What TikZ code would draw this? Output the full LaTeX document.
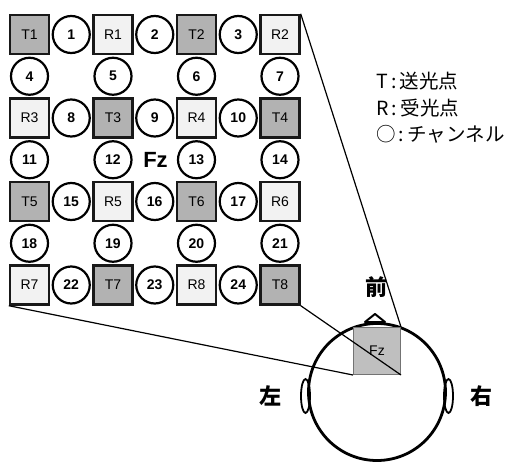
\documentclass[tikz,border=0pt]{standalone}
\usepackage{fontspec}
\setmainfont{Liberation Sans}
\newfontfamily\jp{Noto Sans CJK JP}
\begin{document}
\begin{tikzpicture}[x=1pt,y=-1pt,
  sqbox/.style={draw=black!90,line width=2.4pt,minimum size=39pt,inner sep=0pt,font=\fontsize{14}{14}\selectfont},
  tsq/.style={sqbox,fill=black!30},
  rsq/.style={sqbox,fill=black!5},
  chan/.style={circle,draw=black,line width=2.2pt,minimum size=37pt,inner sep=0pt,fill=white,font=\bfseries\fontsize{14}{14}\selectfont},
  dirlab/.style={font=\jp\bfseries\fontsize{22}{22}\selectfont,inner sep=0pt},
  legend/.style={anchor=west,font=\jp\fontsize{19.5}{19.5}\selectfont,inner sep=0pt},
  zoomline/.style={line width=1.2pt,black}]
\useasboundingbox (0,0) rectangle (509,466);
% squares
\node[tsq] (T1) at (29.5,34.5) {T1};
\node[rsq] (R1) at (113,34.5) {R1};
\node[tsq] (T2) at (196.5,34.5) {T2};
\node[rsq] (R2) at (280,34.5) {R2};
\node[rsq] (R3) at (29.5,118) {R3};
\node[tsq] (T3) at (113,118) {T3};
\node[rsq] (R4) at (196.5,118) {R4};
\node[tsq] (T4) at (280,118) {T4};
\node[tsq] (T5) at (29.5,201.5) {T5};
\node[rsq] (R5) at (113,201.5) {R5};
\node[tsq] (T6) at (196.5,201.5) {T6};
\node[rsq] (R6) at (280,201.5) {R6};
\node[rsq] (R7) at (29.5,285) {R7};
\node[tsq] (T7) at (113,285) {T7};
\node[rsq] (R8) at (196.5,285) {R8};
\node[tsq] (T8) at (280,285) {T8};
% channels
\node[chan] (c1) at (71.25,34.5) {1};
\node[chan] (c2) at (154.75,34.5) {2};
\node[chan] (c3) at (238.25,34.5) {3};
\node[chan] (c4) at (29.5,76.25) {4};
\node[chan] (c5) at (113,76.25) {5};
\node[chan] (c6) at (196.5,76.25) {6};
\node[chan] (c7) at (280,76.25) {7};
\node[chan] (c8) at (71.25,118) {8};
\node[chan] (c9) at (154.75,118) {9};
\node[chan] (c10) at (238.25,118) {10};
\node[chan] (c11) at (29.5,159.75) {11};
\node[chan] (c12) at (113,159.75) {12};
\node[chan] (c13) at (196.5,159.75) {13};
\node[chan] (c14) at (280,159.75) {14};
\node[chan] (c15) at (71.25,201.5) {15};
\node[chan] (c16) at (154.75,201.5) {16};
\node[chan] (c17) at (238.25,201.5) {17};
\node[chan] (c18) at (29.5,243.25) {18};
\node[chan] (c19) at (113,243.25) {19};
\node[chan] (c20) at (196.5,243.25) {20};
\node[chan] (c21) at (280,243.25) {21};
\node[chan] (c22) at (71.25,285) {22};
\node[chan] (c23) at (154.75,285) {23};
\node[chan] (c24) at (238.25,285) {24};
\node[font=\bfseries\fontsize{22}{22}\selectfont,inner sep=0pt] (fzlab) at (155.5,160) {Fz};
% legend
\node[legend] (lt) at (376,81) {T\,:\,送光点};
\node[legend] (lr) at (376,108) {R\,:\,受光点};
\node[legend] (lc) at (376,134) {○\,:\,チャンネル};
% head
\draw[line width=1.8pt,fill=white] (305.5,396) ellipse [x radius=4.5, y radius=17];
\draw[line width=1.8pt,fill=white] (448.5,396) ellipse [x radius=4.5, y radius=17];
\draw[line width=2pt,fill=white,line join=round] (365,322) -- (375,314) -- (385,322) -- cycle;
\node[circle,draw,line width=2.8pt,minimum size=137pt,inner sep=0pt] (head) at (377,392) {};
\node[draw=black!55,fill=black!25,line width=1pt,minimum size=47pt,inner sep=0pt,font=\fontsize{14}{14}\selectfont] (fz) at (377,351) {Fz};
\draw[zoomline] (R2.north east) -- (fz.north east);
\draw[zoomline] (R7.south west) -- (fz.south west);
\draw[zoomline] (T8.south east) -- (fz.south east);
\node[dirlab] (front) at (376,287) {前};
\node[dirlab] (left) at (270,396) {左};
\node[dirlab] (right) at (481,396) {右};
\end{tikzpicture}
\end{document}
